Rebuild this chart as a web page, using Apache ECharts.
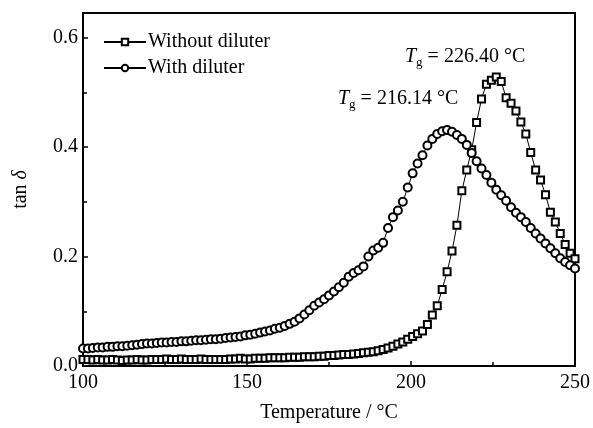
<!DOCTYPE html>
<html>
<head>
<meta charset="utf-8">
<script src="https://cdn.jsdelivr.net/npm/echarts@6/dist/echarts.min.js"></script>
<style>
  html, body { margin: 0; padding: 0; background: #fff; }
  #chart { width: 593px; height: 428px; }
</style>
</head>
<body>
<div id="chart"></div>
<script>
// temperature (°C), shared by both curves
var temps = [
  100,101.5,103,104.5,106,107.5,109,110.5,112,113.5,
  115,116.5,118,119.5,121,122.5,124,125.5,127,128.5,
  130,131.5,133,134.5,136,137.5,139,140.5,142,143.5,
  145,146.5,148,149.5,151,152.5,154,155.5,157,158.5,
  160,161.5,163,164.5,166,167.5,169,170.5,172,173.5,
  175,176.5,178,179.5,181,182.5,184,185.5,187,188.5,
  190,191.5,193,194.5,196,197.5,199,200.5,202,203.5,
  205,206.5,208,209.5,211,212.5,214,215.5,217,218.5,
  220,221.5,223,224.5,226,227.5,229,230.5,232,233.5,
  235,236.5,238,239.5,241,242.5,244,245.5,247,248.5,
  250
];
// tan delta, without diluter (squares)
var tanWithout = [
  0.012,0.012,0.011,0.012,0.011,0.011,0.012,0.011,0.010,0.011,
  0.011,0.012,0.011,0.011,0.012,0.012,0.012,0.013,0.012,0.012,
  0.013,0.012,0.012,0.012,0.013,0.012,0.012,0.012,0.012,0.012,
  0.013,0.013,0.014,0.013,0.013,0.014,0.014,0.014,0.015,0.015,
  0.015,0.015,0.016,0.016,0.016,0.017,0.017,0.017,0.018,0.018,
  0.019,0.019,0.020,0.021,0.021,0.022,0.023,0.024,0.025,0.026,
  0.028,0.030,0.033,0.036,0.040,0.044,0.049,0.054,0.059,0.064,
  0.076,0.093,0.110,0.140,0.172,0.210,0.257,0.320,0.358,0.395,
  0.445,0.488,0.515,0.522,0.528,0.520,0.490,0.480,0.466,0.446,
  0.424,0.390,0.358,0.340,0.313,0.281,0.263,0.242,0.222,0.206,
  0.196
];
// tan delta, with diluter (circles)
var tanWith = [
  0.032,0.032,0.033,0.034,0.034,0.035,0.035,0.036,0.036,0.037,
  0.038,0.039,0.040,0.041,0.041,0.042,0.043,0.043,0.044,0.044,
  0.045,0.045,0.046,0.047,0.047,0.048,0.049,0.049,0.050,0.051,
  0.052,0.053,0.054,0.056,0.057,0.059,0.061,0.063,0.065,0.068,
  0.070,0.073,0.077,0.081,0.087,0.094,0.102,0.110,0.116,0.122,
  0.129,0.136,0.144,0.152,0.163,0.170,0.175,0.182,0.200,0.211,
  0.216,0.225,0.252,0.272,0.284,0.300,0.326,0.352,0.370,0.385,
  0.403,0.415,0.424,0.429,0.431,0.428,0.422,0.415,0.404,0.389,
  0.374,0.361,0.349,0.335,0.322,0.312,0.302,0.290,0.280,0.272,
  0.263,0.252,0.242,0.233,0.224,0.215,0.206,0.197,0.190,0.184,
  0.178
];
var seriesNames = ['Without diluter', 'With diluter'];
var tgLabels = ['226.40', '216.14'];

var font = 'Liberation Serif';

function pairs(xs, ys) {
  var out = [];
  for (var i = 0; i < xs.length; i++) out.push([xs[i], ys[i]]);
  return out;
}

var myChart = echarts.init(document.getElementById('chart'));

function tgText(val, x, y) {
  return {
    type: 'text',
    left: x,
    top: y,
    style: {
      text: '{i|T}{s|g}{n| = ' + val + ' °C}',
      rich: {
        i: { fontFamily: font, fontSize: 20, fontStyle: 'italic', fill: '#000' },
        s: { fontFamily: font, fontSize: 13, fill: '#000', padding: [12, 0, 0, 0] },
        n: { fontFamily: font, fontSize: 20, fill: '#000' }
      }
    }
  };
}

myChart.setOption({
  animation: false,
  backgroundColor: '#fff',
  grid: {
    left: 83, right: 16, top: 13, bottom: 59,
    show: true, borderColor: '#000', borderWidth: 2, backgroundColor: 'transparent'
  },
  legend: {
    data: seriesNames,
    orient: 'vertical',
    left: 98, top: 27,
    itemWidth: 42, itemHeight: 8, itemGap: 6,
    textStyle: { fontFamily: font, fontSize: 20, color: '#000', padding: [0, 0, 0, -3] }
  },
  xAxis: {
    type: 'value',
    min: 100, max: 250, interval: 50,
    name: 'Temperature / °C',
    nameLocation: 'middle', nameGap: 37,
    nameTextStyle: { fontFamily: font, fontSize: 20, color: '#000' },
    axisLine: { lineStyle: { color: '#000', width: 2 } },
    axisTick: { inside: true, length: 5, lineStyle: { color: '#000', width: 1.5 } },
    minorTick: { show: true, splitNumber: 2, length: 4, lineStyle: { color: '#000', width: 1.5 } },
    splitLine: { show: false },
    axisLabel: { fontFamily: font, fontSize: 20, color: '#000', margin: 7 }
  },
  yAxis: {
    type: 'value',
    min: 0, max: 0.645, interval: 0.2,
    name: '{a|tan }{b|δ}',
    nameLocation: 'middle', nameGap: 52, nameRotate: 90,
    nameTextStyle: {
      rich: {
        a: { fontFamily: font, fontSize: 20, color: '#000' },
        b: { fontFamily: font, fontSize: 20, fontStyle: 'italic', color: '#000' }
      }
    },
    axisLine: { lineStyle: { color: '#000', width: 2 } },
    axisTick: { inside: true, length: 5, lineStyle: { color: '#000', width: 1.5 } },
    minorTick: { show: true, splitNumber: 2, length: 4, lineStyle: { color: '#000', width: 1.5 } },
    splitLine: { show: false },
    axisLabel: {
      fontFamily: font, fontSize: 20, color: '#000', margin: 5, showMaxLabel: false,
      formatter: function (v) { return v.toFixed(1); }
    }
  },
  graphic: [
    tgText(tgLabels[0], 405, 47),
    tgText(tgLabels[1], 338, 89)
  ],
  series: [
    {
      name: seriesNames[0],
      type: 'line',
      data: pairs(temps, tanWithout),
      symbol: 'emptyRect',
      symbolSize: 7,
      showAllSymbol: true,
      lineStyle: { color: '#000', width: 1 },
      itemStyle: { color: '#000', borderColor: '#000', borderWidth: 1.2 }
    },
    {
      name: seriesNames[1],
      type: 'line',
      data: pairs(temps, tanWith),
      symbol: 'emptyCircle',
      symbolSize: 8,
      showAllSymbol: true,
      lineStyle: { color: '#000', width: 1 },
      itemStyle: { color: '#000', borderColor: '#000', borderWidth: 1.2 }
    }
  ]
});
</script>
</body>
</html>
